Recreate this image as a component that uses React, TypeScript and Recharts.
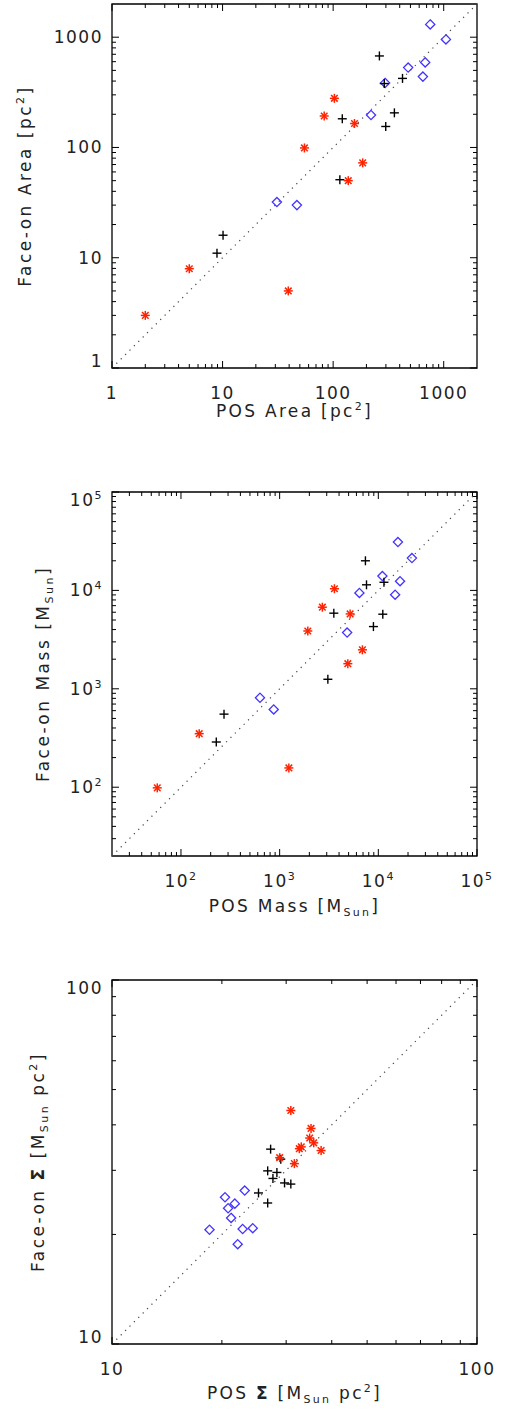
import { ScatterChart, Scatter, XAxis, YAxis, ReferenceArea, ReferenceLine } from 'recharts';

// plot box inside every panel (chart coordinates)
const W = 507;
const H = 488;
const LEFT = 112;
const RIGHT = 477;
const TOP = 4;
const BOTTOM = 368;
const FONT = '"DejaVu Sans", sans-serif';
const INK = '#222';

// ---- panel 1: area [pc^2]
const areaPlusPos = [262, 290, 424, 358, 299, 121, 115, 10.1, 8.9];
const areaPlusFace = [676, 380, 423, 206, 155, 182, 51, 16.0, 11.0];
const areaDiamondPos = [755, 1047, 477, 680, 648, 295, 220, 31, 47];
const areaDiamondFace = [1306, 955, 530, 591, 439, 385, 197, 32, 30];
const areaStarPos = [102.6, 83, 156, 55, 185, 137, 5.0, 2.0, 39.3];
const areaStarFace = [279, 193, 165, 99, 72.5, 50, 7.95, 3.0, 5.0];
const areaDomain = [1, 2000];
const areaMajor = [1, 10, 100, 1000];

// ---- panel 2: mass [M_Sun]
const massPlusPos = [7400, 7590, 11400, 3540, 11100, 8920, 3080, 273, 228];
const massPlusFace = [20000, 11400, 12100, 5870, 5730, 4290, 1250, 553, 288];
const massDiamondPos = [15800, 21900, 11000, 16600, 6430, 14800, 4830, 632, 871];
const massDiamondFace = [31000, 21300, 14000, 12400, 9420, 9040, 3730, 811, 617];
const massStarPos = [3590, 2710, 5180, 1930, 6900, 4910, 153, 57.5, 1240];
const massStarFace = [10400, 6750, 5770, 3870, 2490, 1800, 350, 98.5, 157];
const massDomain = [20, 100000];
const massMajor = [100, 1000, 10000, 100000];

// ---- panel 3: surface density
const sigmaPlusPos = [27.2, 29.0, 26.7, 28.3, 27.6, 29.7, 30.9, 25.2, 26.7];
const sigmaPlusFace = [34.3, 32.2, 29.9, 29.6, 28.5, 27.7, 27.5, 26.0, 24.4];
const sigmaDiamondPos = [23.1, 20.4, 21.7, 20.8, 21.2, 18.5, 22.8, 24.3, 22.1];
const sigmaDiamondFace = [26.4, 25.3, 24.3, 23.6, 22.2, 20.6, 20.7, 20.8, 18.8];
const sigmaStarPos = [30.9, 35.1, 34.8, 35.7, 33.0, 32.6, 37.4, 28.8, 31.6];
const sigmaStarFace = [43.8, 39.1, 36.8, 35.7, 34.8, 34.4, 34.0, 32.5, 31.3];
const sigmaDomain = [10, 100];
const sigmaMajor = [10, 100];

const zip = (xs: number[], ys: number[]) => xs.map((x, i) => ({ x, y: ys[i] }));

// minor log ticks (2..9 of each decade) inside the domain
const minorTicks = (lo: number, hi: number) => {
  const out: number[] = [];
  for (let d = Math.pow(10, Math.floor(Math.log10(lo))); d < hi; d *= 10) {
    for (let k = 2; k <= 9; k++) {
      const v = d * k;
      if (v > lo && v < hi) out.push(v);
    }
  }
  return out;
};

const PlusShape = (p: any) => (
  <g stroke="#000" strokeWidth={1.4}>
    <line x1={p.cx - 4.5} y1={p.cy} x2={p.cx + 4.5} y2={p.cy} />
    <line x1={p.cx} y1={p.cy - 4.5} x2={p.cx} y2={p.cy + 4.5} />
  </g>
);

const DiamondShape = (p: any) => (
  <path
    d={`M${p.cx},${p.cy - 4.6}L${p.cx + 4.6},${p.cy}L${p.cx},${p.cy + 4.6}L${p.cx - 4.6},${p.cy}Z`}
    fill="none"
    stroke="#4433ff"
    strokeWidth={1.3}
  />
);

const StarShape = (p: any) => (
  <g stroke="#ff2200" strokeWidth={1.5}>
    <line x1={p.cx - 4.5} y1={p.cy} x2={p.cx + 4.5} y2={p.cy} />
    <line x1={p.cx} y1={p.cy - 4.5} x2={p.cx} y2={p.cy + 4.5} />
    <line x1={p.cx - 3.3} y1={p.cy - 3.3} x2={p.cx + 3.3} y2={p.cy + 3.3} />
    <line x1={p.cx - 3.3} y1={p.cy + 3.3} x2={p.cx + 3.3} y2={p.cy - 3.3} />
  </g>
);

const plainLabel = (v: number) => <tspan>{String(v)}</tspan>;
const powerLabel = (v: number) => (
  <>
    <tspan>10</tspan>
    <tspan fontSize={11} dy={-7}>{String(Math.round(Math.log10(v)))}</tspan>
  </>
);

type PanelProps = {
  top: number;
  domain: number[];
  major: number[];
  fmt: (v: number) => any;
  plus: { x: number; y: number }[];
  diamond: { x: number; y: number }[];
  star: { x: number; y: number }[];
  xTitle: any;
  yTitle: any;
  xTitleY: number;
  yTitleX: number;
};

function Panel({ top, domain, major, fmt, plus, diamond, star, xTitle, yTitle, xTitleY, yTitleX }: PanelProps) {
  const [lo, hi] = domain;
  const ticks = [...major, ...minorTicks(lo, hi)];
  const isMajor = (v: number) => major.some((m) => Math.abs(m - v) / m < 1e-6);

  const xTick = (p: any) => {
    const x = p.x;
    const len = isMajor(p.payload.value) ? 7 : 4;
    return (
      <g>
        <line x1={x} y1={BOTTOM} x2={x} y2={BOTTOM - len} stroke="#000" strokeWidth={1} />
        <line x1={x} y1={TOP} x2={x} y2={TOP + len} stroke="#000" strokeWidth={1} />
        {isMajor(p.payload.value) ? (
          <text x={x} y={BOTTOM + 31} textAnchor="middle" fontFamily={FONT} fontSize={17} fill={INK} style={{ letterSpacing: 1.5 }}>
            {fmt(p.payload.value)}
          </text>
        ) : null}
      </g>
    );
  };

  const yTick = (p: any) => {
    const y = p.y;
    const len = isMajor(p.payload.value) ? 7 : 4;
    const cy = Math.min(Math.max(y, TOP + 8), BOTTOM - 7);
    return (
      <g>
        <line x1={LEFT} y1={y} x2={LEFT + len} y2={y} stroke="#000" strokeWidth={1} />
        <line x1={RIGHT} y1={y} x2={RIGHT - len} y2={y} stroke="#000" strokeWidth={1} />
        {isMajor(p.payload.value) ? (
          <text x={LEFT - 9} y={cy + 6} textAnchor="end" fontFamily={FONT} fontSize={17} fill={INK} style={{ letterSpacing: 1.5 }}>
            {fmt(p.payload.value)}
          </text>
        ) : null}
      </g>
    );
  };

  const midX = (LEFT + RIGHT) / 2;
  const midY = (TOP + BOTTOM) / 2;

  return (
    <div style={{ position: 'absolute', left: 0, top, width: W, height: H }}>
      <ScatterChart width={W} height={H} margin={{ top: TOP, right: W - RIGHT, bottom: H - BOTTOM - 1, left: LEFT - 1 }}>
        <XAxis
          type="number"
          dataKey="x"
          scale="log"
          domain={domain}
          allowDataOverflow
          ticks={ticks}
          interval={0}
          height={1}
          axisLine={false}
          tickLine={false}
          tick={xTick}
        />
        <YAxis
          type="number"
          dataKey="y"
          scale="log"
          domain={domain}
          allowDataOverflow
          ticks={ticks}
          interval={0}
          width={1}
          axisLine={false}
          tickLine={false}
          tick={yTick}
        />
        <ReferenceLine
          segment={[{ x: lo, y: lo }, { x: hi, y: hi }]}
          stroke="#444"
          strokeWidth={1.2}
          strokeDasharray="1.2 5"
          ifOverflow="visible"
        />
        <ReferenceArea x1={lo} x2={hi} y1={lo} y2={hi} fill="none" fillOpacity={0} stroke="#000" strokeWidth={1.3} ifOverflow="visible" />
        <Scatter data={diamond} shape={DiamondShape} isAnimationActive={false} />
        <Scatter data={plus} shape={PlusShape} isAnimationActive={false} />
        <Scatter data={star} shape={StarShape} isAnimationActive={false} />
      </ScatterChart>
      <svg width={W} height={H} style={{ position: 'absolute', left: 0, top: 0, pointerEvents: 'none' }}>
        <text x={midX} y={xTitleY} textAnchor="middle" fontFamily={FONT} fontSize={17} fill={INK} style={{ letterSpacing: 2.3 }}>
          {xTitle}
        </text>
        <text
          x={yTitleX}
          y={midY}
          transform={`rotate(-90, ${yTitleX}, ${midY})`}
          textAnchor="middle"
          fontFamily={FONT}
          fontSize={17}
          fill={INK}
          style={{ letterSpacing: 2.5 }}
        >
          {yTitle}
        </text>
      </svg>
    </div>
  );
}

const sup2 = (
  <>
    <tspan fontSize={11} dy={-7}>2</tspan>
    <tspan dy={7}>]</tspan>
  </>
);
const sunSub = (
  <>
    <tspan fontSize={11} dy={4}>Sun</tspan>
  </>
);

export default function App() {
  return (
    <div style={{ position: 'absolute', left: 0, top: 0, width: 507, height: 1414, background: '#fff' }}>
      <Panel
        top={0}
        domain={areaDomain}
        major={areaMajor}
        fmt={plainLabel}
        plus={zip(areaPlusPos, areaPlusFace)}
        diamond={zip(areaDiamondPos, areaDiamondFace)}
        star={zip(areaStarPos, areaStarFace)}
        xTitle={<><tspan>POS  Area  [pc</tspan>{sup2}</>}
        yTitle={<><tspan>Face-on  Area  [pc</tspan>{sup2}</>}
        xTitleY={BOTTOM + 49}
        yTitleX={31}
      />
      <Panel
        top={488}
        domain={massDomain}
        major={massMajor}
        fmt={powerLabel}
        plus={zip(massPlusPos, massPlusFace)}
        diamond={zip(massDiamondPos, massDiamondFace)}
        star={zip(massStarPos, massStarFace)}
        xTitle={<><tspan>POS  Mass  [M</tspan>{sunSub}<tspan dy={-4}>]</tspan></>}
        yTitle={<><tspan>Face-on  Mass  [M</tspan>{sunSub}<tspan dy={-4}>]</tspan></>}
        xTitleY={BOTTOM + 56}
        yTitleX={49}
      />
      <Panel
        top={976}
        domain={sigmaDomain}
        major={sigmaMajor}
        fmt={plainLabel}
        plus={zip(sigmaPlusPos, sigmaPlusFace)}
        diamond={zip(sigmaDiamondPos, sigmaDiamondFace)}
        star={zip(sigmaStarPos, sigmaStarFace)}
        xTitle={<><tspan>POS  </tspan><tspan fontWeight="bold">Σ</tspan><tspan>  [M</tspan>{sunSub}<tspan dy={-4}>  pc</tspan>{sup2}</>}
        yTitle={<><tspan>Face-on  </tspan><tspan fontWeight="bold">Σ</tspan><tspan>  [M</tspan>{sunSub}<tspan dy={-4}>  pc</tspan>{sup2}</>}
        xTitleY={BOTTOM + 55}
        yTitleX={44}
      />
    </div>
  );
}
